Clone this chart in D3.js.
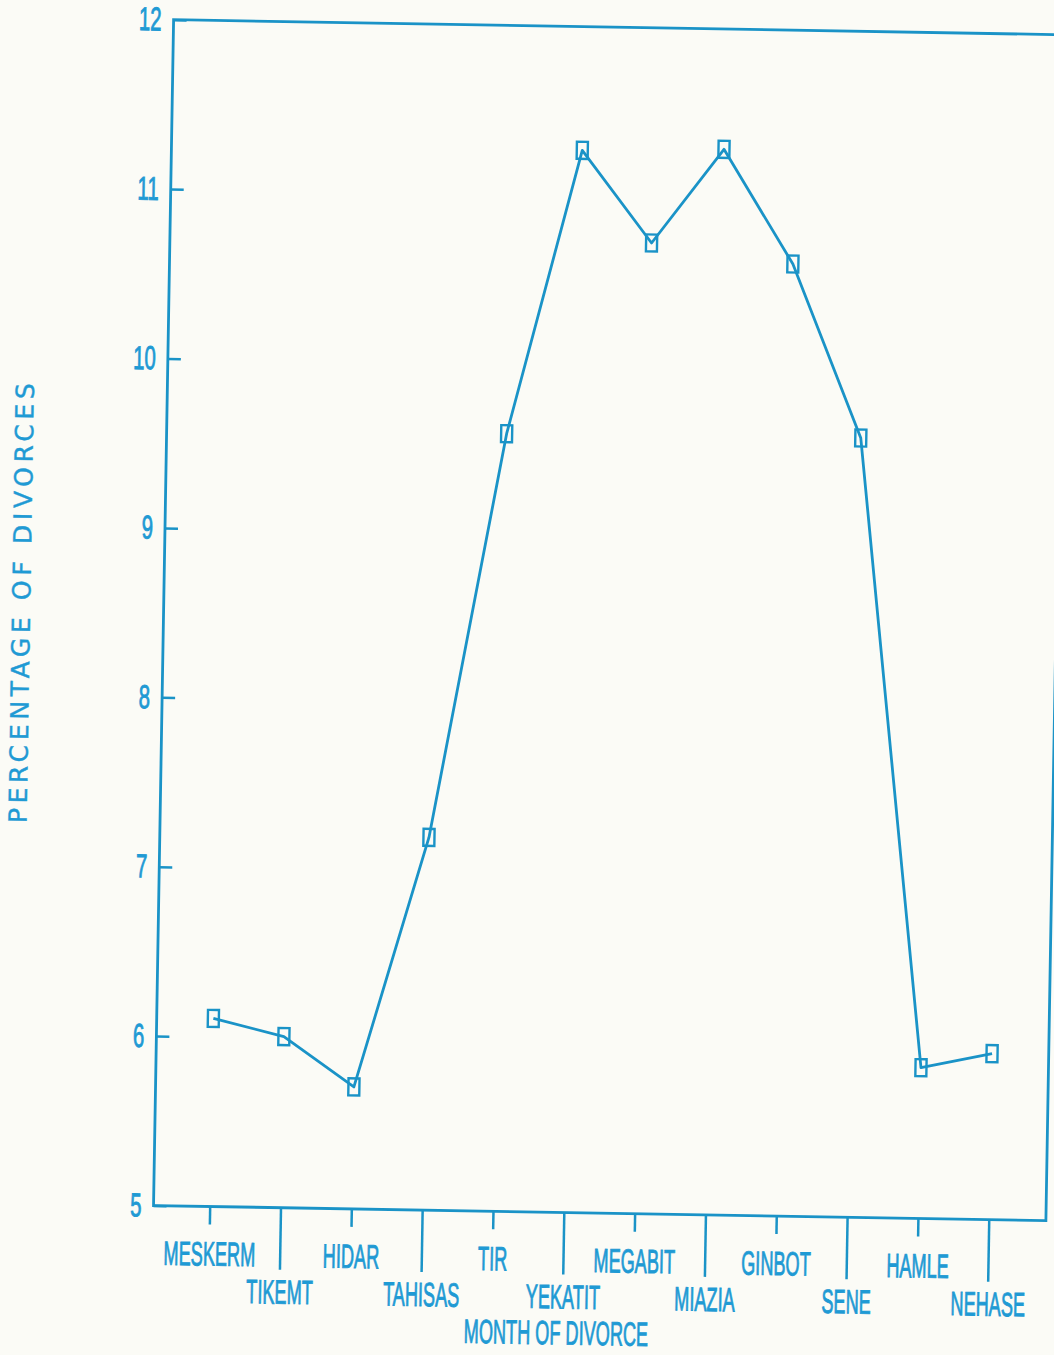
<!DOCTYPE html>
<html>
<head>
<meta charset="utf-8">
<script src="https://cdn.jsdelivr.net/npm/d3@7/dist/d3.min.js"></script>
<style>
  html, body { margin: 0; padding: 0; background: #fbfbf6; }
  svg { display: block; }
</style>
</head>
<body>
<script>
// ---- data ----
const months = ["MESKERM","TIKEMT","HIDAR","TAHISAS","TIR","YEKATIT","MEGABIT","MIAZIA","GINBOT","SENE","HAMLE","NEHASE"];
const percentages = [6.11, 6.01, 5.72, 7.20, 9.59, 11.27, 10.73, 11.29, 10.62, 9.60, 5.89, 5.98];
const yTicks = [5, 6, 7, 8, 9, 10, 11, 12];
const xTitle = "MONTH OF DIVORCE";
const yTitle = "PERCENTAGE OF DIVORCES";

// ---- layout ----
const W = 1054, H = 1355;
const plotL = 163.5, plotR = 1056, plotT = 27, plotB = 1213;
const lineColor = "#1a93c7";
const textColor = "#1f9ad4";

const svg = d3.select("body").append("svg")
  .attr("width", W).attr("height", H)
  .style("background", "#fbfbf6");

const g = svg.append("g").attr("transform", "rotate(0.97, 600, 620)");

const x = d3.scalePoint().domain(months).range([plotL, plotR]).padding(0.8);
const y = d3.scaleLinear().domain([5, 12]).range([plotB, plotT]);

// frame
g.append("rect")
  .attr("x", plotL).attr("y", plotT)
  .attr("width", plotR - plotL).attr("height", plotB - plotT)
  .attr("fill", "none").attr("stroke", lineColor).attr("stroke-width", 2.8);

// y axis: inward ticks
const yAxis = d3.axisRight(y).tickValues(yTicks).tickSize(13).tickFormat("");
const ya = g.append("g").attr("transform", `translate(${plotL},0)`).call(yAxis);
ya.select(".domain").remove();
ya.selectAll("line").attr("stroke", lineColor).attr("stroke-width", 2.5);

function labelStyle(sel) {
  sel.attr("font-family", "Liberation Sans, Arial, sans-serif")
    .attr("font-size", 33)
    .attr("fill", textColor)
    .attr("stroke", textColor)
    .attr("stroke-width", 0.9);
}

// y tick labels (condensed)
g.selectAll(".ylab").data(yTicks).enter().append("text")
  .attr("class", "ylab")
  .attr("transform", d => `translate(${plotL - 12},${y(d) + 11}) scale(0.62,1.0)`)
  .attr("text-anchor", "end")
  .call(labelStyle)
  .text(d => d);

// x axis ticks: alternating short / long
const xa = g.append("g");
xa.selectAll("line").data(months).enter().append("line")
  .attr("x1", d => x(d)).attr("x2", d => x(d))
  .attr("y1", plotB)
  .attr("y2", (d, i) => plotB + (i % 2 === 0 ? 18 : 62))
  .attr("stroke", lineColor).attr("stroke-width", 2.5);

xa.selectAll("text").data(months).enter().append("text")
  .attr("transform", (d, i) => `translate(${x(d)},${plotB + (i % 2 === 0 ? 59 : 96)}) scale(0.55,1.02)`)
  .attr("text-anchor", "middle")
  .call(labelStyle)
  .text(d => d);

// x title
g.append("text")
  .attr("transform", `translate(568,${plotB + 132}) scale(0.55,1.02)`)
  .attr("text-anchor", "middle")
  .call(labelStyle)
  .text(xTitle);

// y title
g.append("text")
  .attr("transform", "translate(30,613) rotate(-90)")
  .attr("text-anchor", "middle")
  .attr("font-family", "DejaVu Sans, sans-serif")
  .attr("font-size", 25)
  .attr("textLength", 440)
  .attr("lengthAdjust", "spacing")
  .attr("fill", textColor)
  .attr("stroke", textColor)
  .attr("stroke-width", 0.4)
  .text(yTitle);

// line
const pts = months.map((m, i) => [x(m), y(percentages[i])]);
g.append("path")
  .attr("d", d3.line()(pts))
  .attr("fill", "none").attr("stroke", lineColor).attr("stroke-width", 2.8)
  .attr("stroke-linejoin", "round");

// markers
g.selectAll(".mk").data(pts).enter().append("rect")
  .attr("class", "mk")
  .attr("x", d => d[0] - 5.5).attr("y", d => d[1] - 8.5)
  .attr("width", 11).attr("height", 17)
  .attr("fill", "none").attr("stroke", lineColor).attr("stroke-width", 2.4);
</script>
</body>
</html>
